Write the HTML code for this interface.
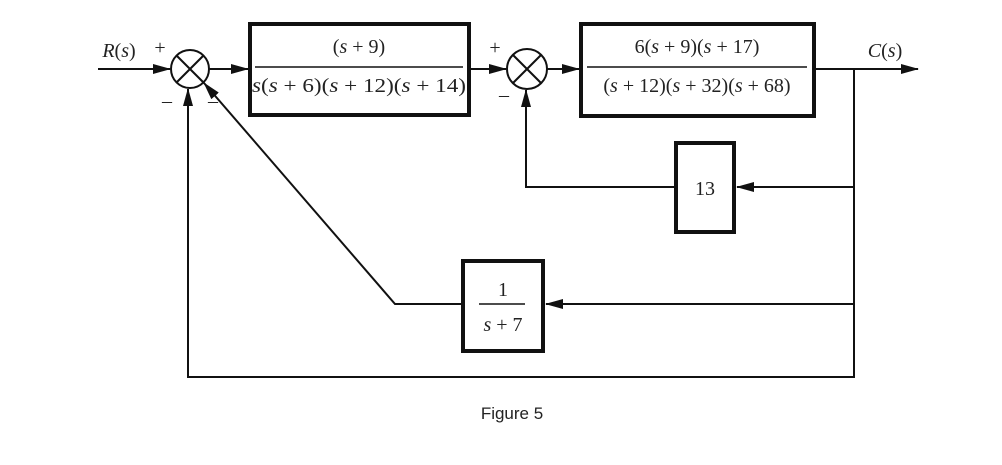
<!DOCTYPE html>
<html><head><meta charset="utf-8"><style>
html,body{margin:0;padding:0;background:#fff;}
svg{display:block;}
text{font-family:"Liberation Serif",serif;fill:#222;}
</style></head><body>
<svg width="1002" height="465" viewBox="0 0 1002 465" xmlns="http://www.w3.org/2000/svg">
<defs><marker id="a" markerWidth="18" markerHeight="10" refX="17" refY="5" orient="auto" markerUnits="userSpaceOnUse"><path d="M0,0 L18,5 L0,10 z" fill="#111"/></marker></defs>
<g stroke="#111" stroke-width="2" fill="none">
<line x1="98" y1="69" x2="170" y2="69" marker-end="url(#a)"/>
<circle cx="190" cy="69" r="19"/>
<line x1="176.5" y1="55.5" x2="203.5" y2="82.5"/><line x1="203.5" y1="55.5" x2="176.5" y2="82.5"/>
<line x1="209" y1="69" x2="248" y2="69" marker-end="url(#a)"/>
<line x1="471" y1="69" x2="506" y2="69" marker-end="url(#a)"/>
<circle cx="527" cy="69" r="20"/>
<line x1="513" y1="55" x2="541" y2="83"/><line x1="541" y1="55" x2="513" y2="83"/>
<line x1="547" y1="69" x2="579" y2="69" marker-end="url(#a)"/>
<line x1="816" y1="69" x2="918" y2="69" marker-end="url(#a)"/>
<polyline points="854,69 854,377 188,377 188,89" marker-end="url(#a)"/>
<line x1="854" y1="187" x2="737" y2="187" marker-end="url(#a)"/>
<polyline points="675,187 526,187 526,90" marker-end="url(#a)"/>
<line x1="854" y1="304" x2="546" y2="304" marker-end="url(#a)"/>
<polyline points="462,304 395,304 204,83" marker-end="url(#a)"/>
</g>
<g stroke="#111" stroke-width="4" fill="none">
<rect x="250" y="24" width="219" height="91"/>
<rect x="581" y="24" width="233" height="92"/>
<rect x="676" y="143" width="58" height="89"/>
<rect x="463" y="261" width="80" height="90"/>
</g>
<g stroke="#111" stroke-width="1.5">
<line x1="255" y1="67" x2="463" y2="67"/>
<line x1="587" y1="67" x2="807" y2="67"/>
<line x1="479" y1="304" x2="525" y2="304"/>
</g>
<g font-size="20" text-anchor="middle">
<text x="359" y="53">(<tspan font-style="italic">s</tspan> + 9)</text>
<text x="359" y="92" textLength="214" lengthAdjust="spacingAndGlyphs"><tspan font-style="italic">s</tspan>(<tspan font-style="italic">s</tspan> + 6)(<tspan font-style="italic">s</tspan> + 12)(<tspan font-style="italic">s</tspan> + 14)</text>
<text x="697" y="53">6(<tspan font-style="italic">s</tspan> + 9)(<tspan font-style="italic">s</tspan> + 17)</text>
<text x="697" y="92">(<tspan font-style="italic">s</tspan> + 12)(<tspan font-style="italic">s</tspan> + 32)(<tspan font-style="italic">s</tspan> + 68)</text>
<text x="705" y="195">13</text>
<text x="503" y="296" fill="#6b3a1f">1</text>
<text x="503" y="331"><tspan font-style="italic">s</tspan> + 7</text>
<text x="119" y="57"><tspan font-style="italic">R</tspan>(<tspan font-style="italic">s</tspan>)</text>
<text x="885" y="57"><tspan font-style="italic">C</tspan>(<tspan font-style="italic">s</tspan>)</text>
<text x="160" y="54">+</text>
<text x="495" y="54">+</text>
<text x="167" y="107">–</text>
<text x="213" y="107">–</text>
<text x="504" y="101">–</text>
</g>
<text x="512" y="419" font-size="17" text-anchor="middle" style="font-family:'Liberation Sans',sans-serif">Figure 5</text>
</svg>
</body></html>
